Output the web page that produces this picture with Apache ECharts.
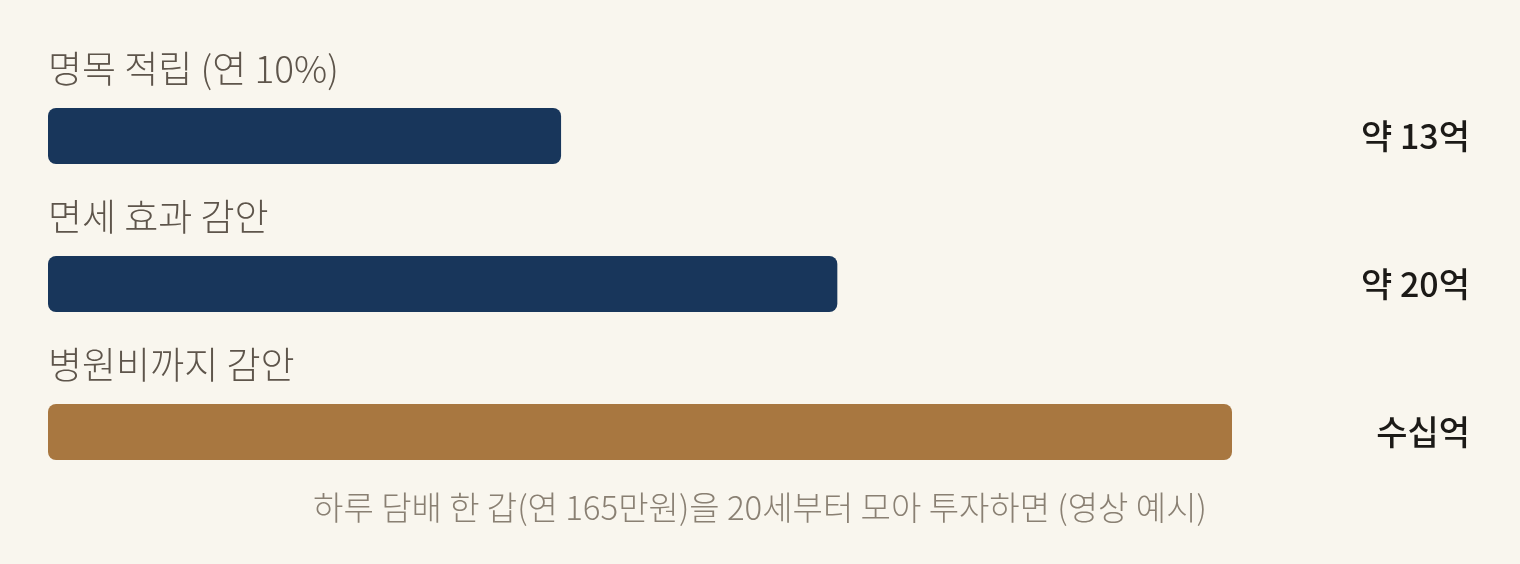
<!DOCTYPE html>
<html>
<head>
<meta charset="utf-8">
<script src="https://cdn.jsdelivr.net/npm/echarts@6/dist/echarts.min.js"></script>
<style>
  html, body { margin: 0; padding: 0; background: #f9f6ee; }
  #chart { width: 1520px; height: 564px; }
</style>
</head>
<body>
<div id="chart"></div>
<script>
    'use strict';

    var categories = ['명목 적립 (연 10%)', '면세 효과 감안', '병원비까지 감안'];
    var values = [13, 20, 30];
    var valueLabels = ['약 13억', '약 20억', '수십억'];
    var barColors = ['#18365b', '#18365b', '#a87740'];
    var caption = '하루 담배 한 갑(연 165만원)을 20세부터 모아 투자하면 (영상 예시)';

    var mediumFont = '"Noto Sans CJK KR Medium", "Noto Sans CJK KR", sans-serif';
    var lightFont = '"Noto Sans CJK KR Light", "Noto Sans CJK KR DemiLight", "Noto Sans CJK KR", sans-serif';

    var chart = echarts.init(document.getElementById('chart'));

    chart.setOption({
        backgroundColor: '#f9f6ee',
        animation: false,
        title: {
            text: caption,
            left: 'center',
            top: 486,
            textStyle: {
                fontFamily: lightFont,
                fontSize: 33,
                fontWeight: 300,
                color: '#8a8073'
            }
        },
        grid: { left: 48, right: 288, top: 62, height: 444 },
        xAxis: {
            type: 'value',
            min: 0,
            max: 30,
            show: false
        },
        yAxis: [{
            type: 'category',
            data: categories,
            inverse: true,
            axisLine: { show: false },
            axisTick: { show: false },
            axisLabel: { show: false }
        }, {
            type: 'category',
            data: valueLabels,
            inverse: true,
            position: 'right',
            axisLine: { show: false },
            axisTick: { show: false },
            axisLabel: {
                align: 'right',
                margin: 238,
                fontFamily: mediumFont,
                fontSize: 34,
                fontWeight: 500,
                color: '#1c1a17'
            }
        }],
        series: [{
            type: 'bar',
            barWidth: 56,
            data: values.map(function (v, i) {
                return { value: v, itemStyle: { color: barColors[i] } };
            }),
            itemStyle: { borderRadius: 8 },
            label: {
                show: true,
                position: [0, -39],
                align: 'left',
                verticalAlign: 'middle',
                formatter: '{b}',
                fontFamily: lightFont,
                fontSize: 37,
                fontWeight: 300,
                color: '#5e554b'
            }
        }]
    });
</script>
</body>
</html>
